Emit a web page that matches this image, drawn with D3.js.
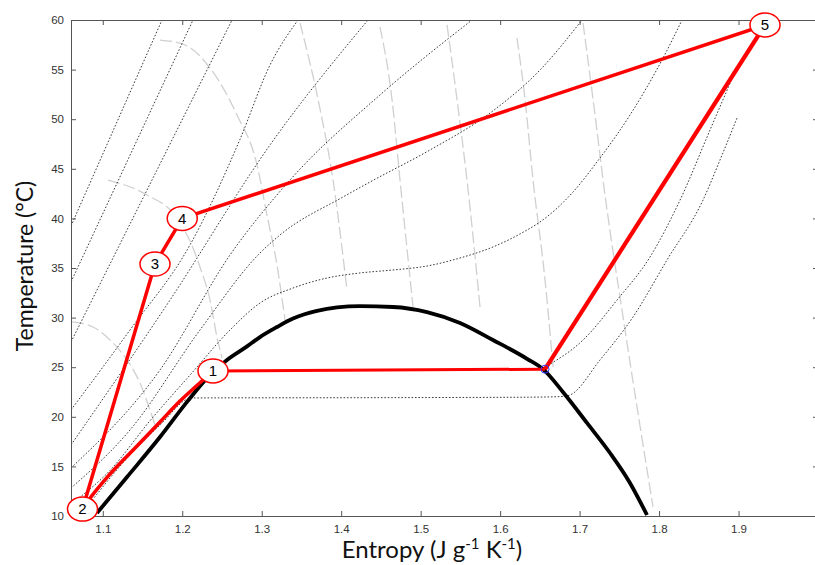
<!DOCTYPE html>
<html>
<head>
<meta charset="utf-8">
<script src="https://cdn.jsdelivr.net/npm/d3@7"></script>
<style>
  body { margin: 0; background: #fff; }
  svg { display: block; }
</style>
</head>
<body>
<div id="chart"></div>
<script>
// ---- data (entropy s in J/g/K, temperature T in °C) ----
var xTicks = [1.1, 1.2, 1.3, 1.4, 1.5, 1.6, 1.7, 1.8, 1.9, 2.0];
var xLabels = [1.1, 1.2, 1.3, 1.4, 1.5, 1.6, 1.7, 1.8, 1.9];
var yTicks = [10, 15, 20, 25, 30, 35, 40, 45, 50, 55, 60];

// saturation dome
var domeS = [1.0927, 1.1305, 1.1720, 1.2060, 1.2311, 1.2563, 1.2815, 1.2978, 1.3192, 1.3394, 1.3696, 1.3948,
             1.4237, 1.4652, 1.5080, 1.5495, 1.5910, 1.6338, 1.6540, 1.6790, 1.7093, 1.7383, 1.7634, 1.7848];
var domeT = [10.3, 13.93, 17.96, 21.5, 23.9, 25.73, 27.1, 28.04, 29.05, 29.9, 30.67, 31.02,
             31.15, 31.07, 30.56, 29.46, 27.74, 25.85, 24.8, 22.5, 19.38, 16.35, 13.33, 10.1];

// isobars (dotted)
var isobar1 = [[1.060, 39.23], [1.1745, 60.0]];
var isobar2 = [[1.060, 33.59], [1.2135, 60.0]];
var isobar3 = [[1.060, 27.54], [1.2626, 60.0]];
var isobar4 = [[1.060, 20.69], [1.1342, 28.75], [1.2097, 37.32], [1.2727, 47.98], [1.3104, 55.46], [1.3457, 60.0]];
var isobar5 = [[1.060, 17.16], [1.1846, 31.77], [1.3104, 47.40], [1.4337, 60.0]];
var isobar6 = [[1.060, 14.84], [1.1720, 24.72], [1.2601, 36.31], [1.3356, 43.87], [1.4488, 52.44], [1.5646, 60.0]];
var isobar7 = [[1.060, 12.82], [1.1342, 18.67], [1.2223, 28.75], [1.2978, 36.51], [1.3230, 38.33], [1.4023, 42.16],
               [1.4363, 43.67], [1.5118, 46.90], [1.5873, 50.62], [1.6502, 54.96], [1.7030, 60.0]];
var isobar8 = [[1.060, 11.2], [1.1091, 14.6], [1.1594, 19.6], [1.2097, 24.2], [1.2601, 28.75], [1.2978, 31.47],
               [1.3394, 32.98], [1.3822, 33.99], [1.4237, 34.50], [1.4652, 34.80], [1.5080, 35.20], [1.5495, 36.01],
               [1.5910, 37.12], [1.6338, 38.83], [1.6502, 39.64], [1.6917, 42.66], [1.7219, 45.69], [1.7634, 50.42],
               [1.8050, 56.17], [1.8289, 60.0]];
var isobar9 = [[1.6565, 25.02], [1.7043, 27.74], [1.7471, 31.77], [1.7886, 36.11], [1.8264, 41.85], [1.8641, 48.91],
               [1.8981, 55.26]];
var isobar10 = [[1.0760, 10.5], [1.1342, 16.15], [1.1720, 19.17], [1.2123, 21.90], [1.4500, 21.93], [1.6400, 21.98],
                [1.6791, 22.05], [1.6879, 22.20], [1.7257, 25.73], [1.7672, 30.06], [1.8100, 35.81], [1.8553, 41.85],
                [1.8767, 45.89], [1.8981, 50.12]];
var isobars = [isobar1, isobar2, isobar3, isobar4, isobar5, isobar6, isobar7, isobar8, isobar9, isobar10];

// light grey dashed lines
var greyA = [[1.1720, 57.98], [1.2035, 57.48], [1.2349, 55.16], [1.2689, 50.42], [1.2941, 45.38], [1.3066, 40.34],
             [1.3192, 35.30], [1.3293, 29.76]];
var greyB = [[1.1066, 43.87], [1.1556, 42.36], [1.1934, 40.04], [1.2135, 37.02], [1.2223, 35.10], [1.2349, 31.77],
             [1.2437, 28.04], [1.2500, 25.93]];
var greyC = [[1.0613, 29.56], [1.0877, 29.05], [1.1091, 27.74], [1.1305, 25.73], [1.1468, 23.41], [1.1594, 20.69],
             [1.1657, 19.17]];
var grey1 = [[1.3482, 59.70], [1.3708, 52.02], [1.3897, 43.87], [1.4073, 32.78]];
var grey2 = [[1.4488, 59.29], [1.4639, 52.02], [1.4740, 43.87], [1.4904, 31.07]];
var grey3 = [[1.5332, 59.50], [1.5457, 52.02], [1.5583, 43.87], [1.5747, 31.07]];
var grey4 = [[1.6212, 58.19], [1.6313, 52.02], [1.6414, 43.87], [1.6565, 33.79], [1.6666, 25.02]];
var grey5 = [[1.7043, 59.70], [1.7169, 52.02], [1.7320, 42.36], [1.7572, 28.75], [1.7924, 10.91]];
var greys = [greyA, greyB, greyC, grey1, grey2, grey3, grey4, grey5];

// cycle (red)
var cycle21 = [[1.0745, 10.7], [1.0814, 11.51], [1.1091, 14.23], [1.1431, 17.06], [1.1720, 19.48], [1.1972, 21.59],
               [1.2135, 22.80], [1.2261, 23.71], [1.2387, 24.62]];
var cycleEvap = [[1.2387, 24.62], [1.6565, 24.8]];
var cycleComp = [[1.6565, 24.8], [1.9333, 59.5]];
var cycleRest = [[1.9333, 59.5], [1.2000, 40.0], [1.1657, 35.4], [1.0745, 10.7]];
var stateLabels = ["1", "2", "3", "4", "5"];
var stateS = [1.2387, 1.0745, 1.1657, 1.2000, 1.9333];
var stateT = [24.62, 10.7, 35.4, 40.0, 59.5];
var suctionPoint = [1.6565, 24.8];

// ---- chart ----
var W = 815, H = 565;
var x = d3.scaleLinear().domain([1.06, 2.0]).range([71, 818]);
var y = d3.scaleLinear().domain([10, 60]).range([516, 20]);

var svg = d3.select("#chart").append("svg")
    .attr("width", W)
    .attr("height", H);

svg.append("defs").append("clipPath").attr("id", "plotclip")
    .append("rect")
    .attr("x", x(1.06)).attr("y", y(60))
    .attr("width", x(2.0) - x(1.06)).attr("height", y(10) - y(60));

var line = d3.line()
    .x(function(d) { return x(d[0]); })
    .y(function(d) { return y(d[1]); })
    .curve(d3.curveMonotoneX);

var straight = d3.line()
    .x(function(d) { return x(d[0]); })
    .y(function(d) { return y(d[1]); });

var plot = svg.append("g").attr("clip-path", "url(#plotclip)");

plot.selectAll(".grey").data(greys).enter().append("path")
    .attr("class", "grey")
    .attr("d", line)
    .attr("fill", "none")
    .attr("stroke", "#d0d0d0")
    .attr("stroke-width", 1.3)
    .attr("stroke-dasharray", "12,4");

plot.selectAll(".isobar").data(isobars).enter().append("path")
    .attr("class", "isobar")
    .attr("d", line)
    .attr("fill", "none")
    .attr("stroke", "#3a3a3a")
    .attr("stroke-width", 1)
    .attr("stroke-dasharray", "1.6,1.8");

var dome = domeS.map(function(s, i) { return [s, domeT[i]]; });
plot.append("path")
    .attr("d", line(dome))
    .attr("fill", "none")
    .attr("stroke", "#000")
    .attr("stroke-width", 3.8);

plot.append("path")
    .attr("d", line(cycle21))
    .attr("fill", "none").attr("stroke", "#ff0000").attr("stroke-width", 3.6);
plot.append("path")
    .attr("d", straight(cycleEvap))
    .attr("fill", "none").attr("stroke", "#ff0000").attr("stroke-width", 3);
plot.append("path")
    .attr("d", straight(cycleComp))
    .attr("fill", "none").attr("stroke", "#ff0000").attr("stroke-width", 4.2);
plot.append("path")
    .attr("d", straight(cycleRest))
    .attr("fill", "none").attr("stroke", "#ff0000").attr("stroke-width", 3.5)
    .attr("stroke-linejoin", "round");

svg.append("circle")
    .attr("cx", x(suctionPoint[0])).attr("cy", y(suctionPoint[1]))
    .attr("r", 4)
    .attr("fill", "none").attr("stroke", "#3333ff").attr("stroke-width", 1);

// axes
var axisColor = "#555";
function styleAxis(g) {
  g.select(".domain").attr("stroke", axisColor);
  g.selectAll(".tick line").attr("stroke", axisColor);
  g.selectAll(".tick text").attr("fill", "#333")
    .style("font-family", "'Liberation Sans', Arial, sans-serif").style("font-size", "11.5px");
}

svg.append("g").attr("transform", "translate(0," + y(10) + ")")
    .call(d3.axisBottom(x).tickValues(xTicks).tickSizeInner(-5).tickSizeOuter(0).tickPadding(9)
      .tickFormat(function(d) { return xLabels.indexOf(d) >= 0 ? d3.format(".1f")(d) : ""; }))
    .call(styleAxis);
svg.append("g").attr("transform", "translate(0," + y(60) + ")")
    .call(d3.axisTop(x).tickValues(xTicks).tickSizeInner(-5).tickSizeOuter(0).tickFormat(""))
    .call(styleAxis);
svg.append("g").attr("transform", "translate(" + x(1.06) + ",0)")
    .call(d3.axisLeft(y).tickValues(yTicks).tickSizeInner(-5).tickSizeOuter(0).tickPadding(7))
    .call(styleAxis);
svg.append("g").attr("transform", "translate(" + x(2.0) + ",0)")
    .call(d3.axisRight(y).tickValues(yTicks).tickSizeInner(-5).tickSizeOuter(0).tickFormat(""))
    .call(styleAxis);

// state markers
var states = svg.selectAll(".state").data(stateLabels).enter().append("g")
    .attr("class", "state")
    .attr("transform", function(d, i) { return "translate(" + x(stateS[i]) + "," + y(stateT[i]) + ")"; });
states.append("ellipse")
    .attr("rx", 15).attr("ry", 12)
    .attr("fill", "#fff").attr("stroke", "#ff0000").attr("stroke-width", 1.5);
states.append("text")
    .attr("text-anchor", "middle").attr("dy", "0.36em")
    .style("font-family", "'Liberation Sans', Arial, sans-serif").style("font-size", "15px")
    .text(function(d) { return d; });

// axis titles
var title = svg.append("text")
    .attr("x", 432).attr("y", 558)
    .attr("text-anchor", "middle")
    .style("font-family", "Lato, 'Open Sans', sans-serif").style("font-size", "24px")
    .attr("fill", "#111");
title.append("tspan").text("Entropy (J g");
title.append("tspan").attr("dy", -9).style("font-size", "15px").text("-1");
title.append("tspan").attr("dy", 9).text(" K");
title.append("tspan").attr("dy", -9).style("font-size", "15px").text("-1");
title.append("tspan").attr("dy", 9).text(")");

svg.append("text")
    .attr("transform", "translate(33,266) rotate(-90)")
    .attr("text-anchor", "middle")
    .style("font-family", "Lato, 'Open Sans', sans-serif").style("font-size", "23px")
    .attr("fill", "#111")
    .text("Temperature (°C)");
</script>
</body>
</html>
